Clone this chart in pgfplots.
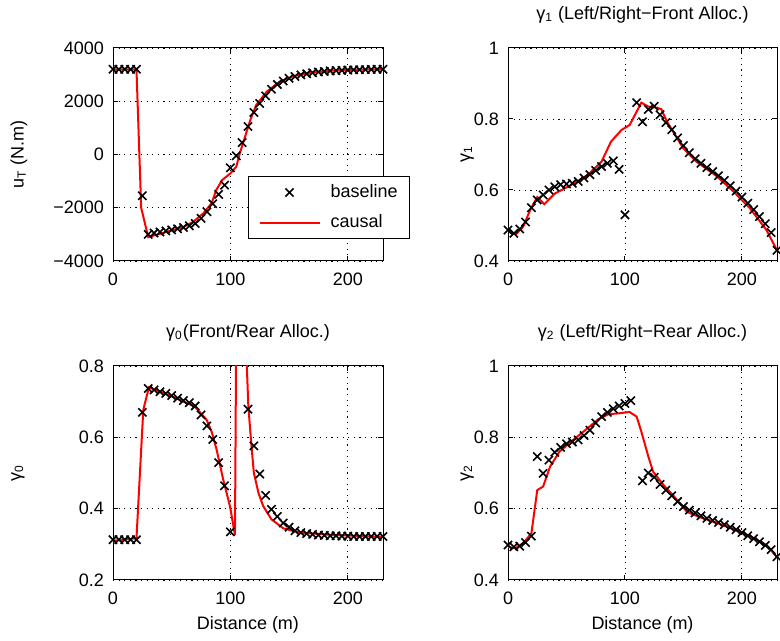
\documentclass[border=0pt]{standalone}
\usepackage{fontspec}
\setmainfont{Liberation Sans}
\usepackage{pgfplots}
\pgfplotsset{compat=1.18}

\pgfplotsset{
  panel/.style={
    scale only axis,
    width=135pt, height=107pt,
    xmin=0, xmax=230,
    xtick={0,100,200},
    grid=major,
    major grid style={black, line width=0.45pt, dash pattern=on 0.6pt off 2.2pt},
    axis line style={black, line width=0.5pt},
    tick align=inside, tick pos=both,
    major tick length=2.5pt,
    tick style={black, line width=0.5pt},
    /pgf/number format/assume math mode=true,
    /pgf/number format/1000 sep={},
    scaled ticks=false,
    xticklabel style={yshift=-2.5pt},
    yticklabel style={xshift=-1pt},
    title style={at={(axis description cs:0.5,1.10)}, anchor=center},
    xlabel style={at={(axis description cs:0.5,-0.21)}, anchor=center},
  },
  base/.style={only marks, mark=x, mark size=2.9pt, black, line width=0.8pt},
  caus/.style={red, line width=1pt, no marks},
}

\begin{document}
\begin{tikzpicture}[font=\fontsize{9}{11}\selectfont]
\path[use as bounding box] (0pt,0pt) rectangle (390pt,320.5pt);

% u_T
\begin{axis}[panel, at={(56.5pt,190pt)}, anchor=south west, height=106.5pt,
  ymin=-4000, ymax=4000, ytick={-4000,-2000,0,2000,4000},
  yticklabels={−4000,−2000,0,2000,4000},
  ylabel={u\textsubscript{T} (N.m)},
  ylabel style={at={(axis description cs:-0.348,0.5)}, anchor=center},
  legend style={at={(axis description cs:0.5,0.399)}, anchor=north west,
    draw=black, line width=0.5pt, fill=white,
    inner xsep=5pt, inner ysep=2.75pt, row sep=4.5pt,
    nodes={inner sep=1pt, text height=6.5pt, text depth=2pt},
    /tikz/every odd column/.append style={column sep=4pt},
    cells={anchor=west}},
  legend image code/.code={\draw[mark repeat=2, mark phase=2, #1] plot coordinates {(0pt,0pt) (15pt,0pt) (30pt,0pt)};},
]
\addplot[base] table {
0 3200
5 3200
10 3200
15 3200
20 3200
25 -1550
30 -3000
35 -2950
40 -2910
45 -2870
50 -2830
55 -2790
60 -2740
65 -2680
70 -2590
75 -2400
80 -2150
85 -1850
90 -1500
95 -1150
100 -500
105 -50
110 450
115 1050
120 1580
125 1920
130 2200
135 2450
140 2630
145 2760
150 2860
155 2930
160 2990
165 3030
170 3070
175 3100
180 3120
185 3140
190 3150
195 3160
200 3170
205 3180
210 3185
215 3190
220 3195
225 3200
230 3200
};
\addlegendentry{baseline}
\addplot[caus] table {
0 3200
20 3200
24 -2000
30 -3100
40 -2980
50 -2850
60 -2720
68 -2540
77 -2210
84 -1830
88 -1330
93 -960
100 -710
105 -460
108 40
112.5 670
117 1300
122 1860
131 2360
142 2740
155 2960
168 3070
190 3160
230 3210
};
\addlegendentry{causal}
\end{axis}

% gamma_1
\begin{axis}[panel, at={(254pt,190pt)}, anchor=south west, width=134.5pt, height=106.5pt,
  ymin=0.4, ymax=1, ytick={0.4,0.6,0.8,1},
  ylabel={γ\textsubscript{1}},
  ylabel style={at={(axis description cs:-0.152,0.5)}, anchor=center},
  title={γ\textsubscript{1} (Left/Right−Front Alloc.)},
]
\addplot[base] table {
0 0.487
5 0.478
10 0.49
15 0.51
20 0.55
25 0.572
30 0.586
35 0.60
40 0.609
45 0.615
50 0.617
55 0.619
60 0.624
65 0.634
70 0.643
75 0.655
80 0.666
85 0.675
90 0.682
95 0.658
100 0.53
110 0.846
115 0.792
120 0.827
125 0.836
130 0.812
135 0.79
140 0.77
145 0.747
150 0.725
155 0.705
160 0.688
165 0.675
170 0.663
175 0.652
180 0.64
185 0.627
190 0.612
195 0.597
200 0.58
205 0.563
210 0.545
215 0.525
220 0.505
225 0.48
230 0.43
};
\addplot[caus] table {
0 0.49
2 0.48
7 0.476
13 0.497
19 0.544
25 0.58
31 0.56
40 0.59
54 0.614
68 0.642
80 0.68
88 0.736
97 0.769
104 0.783
114 0.846
120 0.835
127 0.832
131 0.828
136 0.792
150 0.717
161 0.68
178 0.64
193 0.595
207 0.548
221 0.487
230 0.43
};
\end{axis}

% gamma_0
\begin{axis}[panel, at={(56.5pt,30.5pt)}, anchor=south west,
  ymin=0.2, ymax=0.8, ytick={0.2,0.4,0.6,0.8},
  ylabel={γ\textsubscript{0}},
  ylabel style={at={(axis description cs:-0.352,0.5)}, anchor=center},
  title={γ\textsubscript{0}(Front/Rear Alloc.)},
  xlabel={Distance (m)},
]
\addplot[base] table {
0 0.313
5 0.313
10 0.313
15 0.313
20 0.313
25 0.67
30 0.737
35 0.733
40 0.728
45 0.723
50 0.717
55 0.710
60 0.703
65 0.697
70 0.688
75 0.663
80 0.632
85 0.594
90 0.529
95 0.464
100 0.335
115 0.679
120 0.576
125 0.497
130 0.437
135 0.398
140 0.378
145 0.36
150 0.348
155 0.338
160 0.333
165 0.330
170 0.328
175 0.326
180 0.325
185 0.324
190 0.324
195 0.323
200 0.323
205 0.322
210 0.322
215 0.322
220 0.322
225 0.322
230 0.322
};
\addplot[caus] table {
0 0.31
20 0.317
25.8 0.677
30.6 0.74
50 0.715
69.8 0.686
79.8 0.649
84 0.616
88.3 0.565
94 0.48
99.7 0.406
103.9 0.326
105.5 1.2
113 1.2
114 0.80
115.3 0.686
118 0.574
120 0.50
124 0.443
128 0.407
135 0.37
145 0.345
159 0.333
188 0.326
230 0.321
};
\end{axis}

% gamma_2
\begin{axis}[panel, at={(254pt,30.5pt)}, anchor=south west, width=134.5pt,
  ymin=0.4, ymax=1, ytick={0.4,0.6,0.8,1},
  ylabel={γ\textsubscript{2}},
  ylabel style={at={(axis description cs:-0.152,0.5)}, anchor=center},
  title={γ\textsubscript{2} (Left/Right−Rear Alloc.)},
  xlabel={Distance (m)},
]
\addplot[base] table {
0 0.498
5 0.493
10 0.495
15 0.505
20 0.523
25 0.746
30 0.699
35 0.736
40 0.758
45 0.772
50 0.782
55 0.787
60 0.793
65 0.805
70 0.82
75 0.84
80 0.858
85 0.87
90 0.88
95 0.888
100 0.895
105 0.903
115 0.678
120 0.70
125 0.688
130 0.668
135 0.652
140 0.636
145 0.62
150 0.606
155 0.596
160 0.588
165 0.58
170 0.573
175 0.567
180 0.561
185 0.555
190 0.548
195 0.541
200 0.533
205 0.524
210 0.516
215 0.507
220 0.497
225 0.485
230 0.465
};
\addplot[caus] table {
0 0.493
6 0.489
13 0.503
20 0.531
25 0.652
30 0.662
36 0.718
44 0.76
54 0.788
66 0.82
77 0.85
86 0.865
94 0.867
104 0.871
110 0.858
114 0.816
120 0.746
124 0.704
133 0.666
141 0.638
153 0.591
164 0.576
178 0.561
193 0.542
207 0.523
221 0.498
230 0.464
};
\end{axis}
\end{tikzpicture}
\end{document}
